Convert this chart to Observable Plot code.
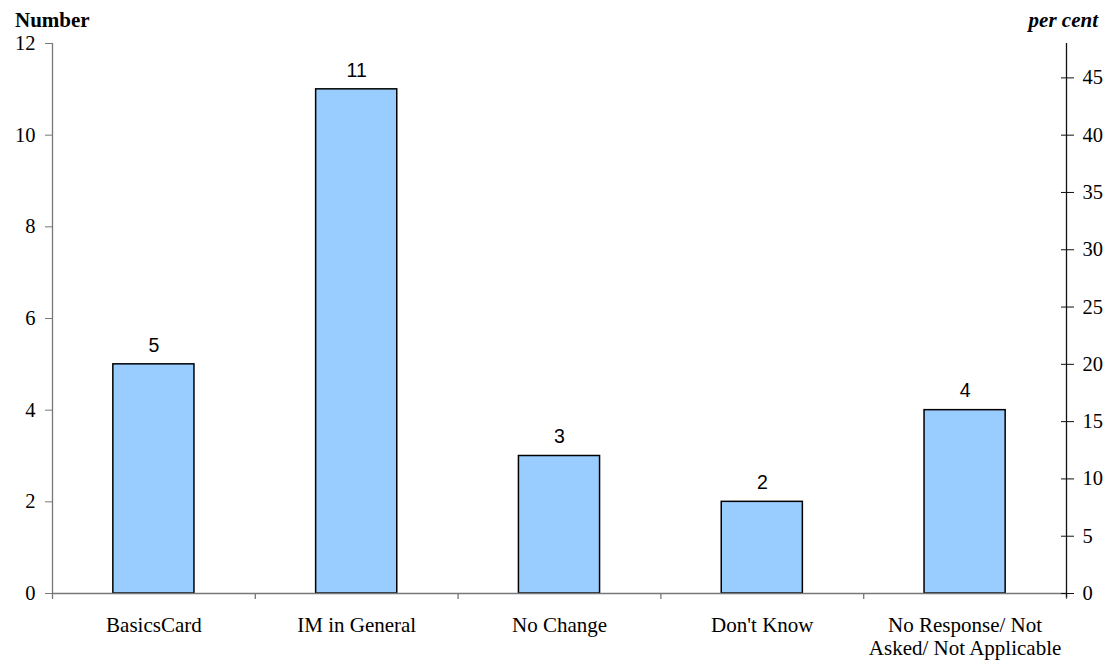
<!DOCTYPE html>
<html>
<head>
<meta charset="utf-8">
<script src="https://cdn.jsdelivr.net/npm/d3@7"></script>
<script src="https://cdn.jsdelivr.net/npm/@observablehq/plot@0.6"></script>
<style>
  html, body { margin: 0; padding: 0; background: #fff; }
  #chart { position: relative; width: 1108px; height: 662px; }
  .ylabel { position: absolute; top: 8px; font: bold 21px "Liberation Serif", "Times New Roman", serif; color: #000; }
  #left-label { left: 15px; }
  #right-label { right: 10px; font-style: italic; }
</style>
</head>
<body>
<div id="chart">
  <div class="ylabel" id="left-label">Number</div>
  <div class="ylabel" id="right-label">per cent</div>
</div>
<script>
// Survey responses per category
const categories = ["BasicsCard", "IM in General", "No Change", "Don't Know", "No Response/ Not\nAsked/ Not Applicable"];
const counts = [5, 11, 3, 2, 4];
const numberTicks = [0, 2, 4, 6, 8, 10, 12];
const percentTicks = [0, 5, 10, 15, 20, 25, 30, 35, 40, 45];

const total = d3.sum(counts);
const data = categories.map((name, i) => ({name, i, count: counts[i]}));
const pctToNum = p => p * total / 100;

const serif = "Liberation Serif, Times New Roman, serif";
const sans = "Liberation Sans, Arial, sans-serif";
const grey = "#777";

const chart = Plot.plot({
  width: 1108,
  height: 662,
  marginLeft: 52,
  marginRight: 42,
  marginTop: 43,
  marginBottom: 69,
  style: {fontFamily: serif, fontSize: "20px", background: "transparent", overflow: "visible"},
  x: {type: "linear", domain: [0, categories.length], axis: null, label: null},
  y: {type: "linear", domain: [0, 12], axis: null, label: null},
  marks: [
    // bars
    Plot.rectY(data, {
      x1: d => d.i + 0.3, x2: d => d.i + 0.7, y1: 0, y2: "count",
      fill: "#99ccff", stroke: "#000", strokeWidth: 1.5
    }),
    // left axis line and ticks
    Plot.ruleX([0], {y1: 0, y2: 12, stroke: grey, strokeWidth: 1.3}),
    Plot.axisY(numberTicks, {
      anchor: "left", tickSize: 7, tickPadding: 10, stroke: grey, label: null,
      fontFamily: serif, fontSize: 20.5, fill: "#000", tickFormat: d => d
    }),
    // baseline with category ticks at band edges
    Plot.ruleY([0], {stroke: grey, strokeWidth: 1.3}),
    Plot.axisX(d3.range(categories.length + 1), {
      anchor: "bottom", tickSize: 6, stroke: grey, strokeWidth: 1.3,
      label: null, tickFormat: () => ""
    }),
    // category labels
    Plot.text(data, {
      x: d => d.i + 0.5, y: 0, text: "name", lineAnchor: "top", dy: 22,
      lineHeight: 1.1, fontFamily: serif, fontSize: 21, fill: "#000"
    }),
    // right axis (per cent of all responses)
    Plot.ruleX([categories.length], {y1: -0.1, y2: 12, stroke: "#111", strokeWidth: 1.3}),
    Plot.axisY(percentTicks.map(pctToNum), {
      anchor: "right", tickSize: 7, tickPadding: 9, stroke: "#111", label: null,
      fontFamily: serif, fontSize: 20.5, fill: "#000",
      tickFormat: v => Math.round(v * 100 / total)
    }),
    Plot.axisY(percentTicks.map(pctToNum), {
      anchor: "right", tickSize: 6, dx: -6, stroke: "#111", label: null, tickFormat: () => ""
    }),
    // value labels
    Plot.text(data, {
      x: d => d.i + 0.5, y: "count", text: d => String(d.count),
      lineAnchor: "middle", dy: -19, fontFamily: sans, fontSize: 19.5, fill: "#000"
    })
  ]
});

document.getElementById("chart").prepend(chart);
chart.style.position = "absolute";
chart.style.left = "0";
chart.style.top = "0";
</script>
</body>
</html>
